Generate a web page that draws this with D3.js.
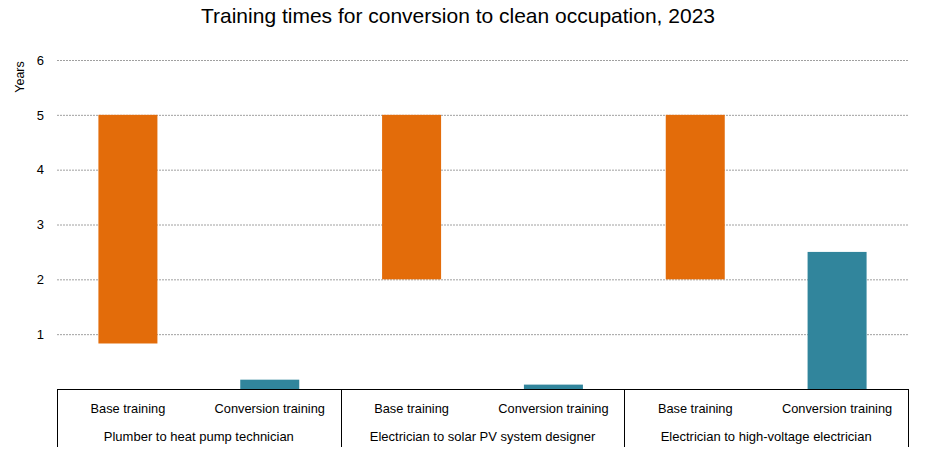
<!DOCTYPE html>
<html lang="en">
<head>
<meta charset="UTF-8">
<title>Training times for conversion to clean occupation, 2023</title>
<script src="https://cdn.jsdelivr.net/npm/d3@7"></script>
<style>
    body { margin: 0; background: #fff; }
    svg { display: block; }
    .tick text { font-family: "Liberation Sans", Arial, sans-serif; }
</style>
</head>
<body>
<script>
// occupations (outer categories) and phases (inner categories)
const groups = ["Plumber to heat pump technician", "Electrician to solar PV system designer", "Electrician to high-voltage electrician"];
const phases = ["Base training", "Conversion training"];

// floating bars: start and end in years
const baseStart = [0.83, 2, 2];
const baseEnd = [5, 5, 5];
const convStart = [0, 0, 0];
const convEnd = [0.17, 0.08, 2.5];

const yTicks = [1, 2, 3, 4, 5, 6];

const width = 946, height = 474;
const plotLeft = 57, plotRight = 908, plotTop = 60, plotBottom = 389;
const colors = { "Base training": "#e36c0a", "Conversion training": "#31859c" };

// flatten into rows for the bars
const rows = [];
groups.forEach((g, i) => {
    rows.push({ group: g, phase: phases[0], key: g + "|" + phases[0], y0: baseStart[i], y1: baseEnd[i] });
    rows.push({ group: g, phase: phases[1], key: g + "|" + phases[1], y0: convStart[i], y1: convEnd[i] });
});

const svg = d3.select("body").append("svg")
    .attr("width", width)
    .attr("height", height);

const x0 = d3.scaleBand().domain(groups).range([plotLeft, plotRight]).padding(0);
const x = d3.scaleBand().domain(rows.map(d => d.key)).range([plotLeft, plotRight])
    .paddingInner(0.584).paddingOuter(0.292);
const y = d3.scaleLinear().domain([0, 6]).range([plotBottom, plotTop]);

svg.append("text")
    .attr("x", 458).attr("y", 23)
    .attr("text-anchor", "middle")
    .style("font-family", "'Liberation Sans', Arial, sans-serif")
    .style("font-size", "21px")
    .text("Training times for conversion to clean occupation, 2023");

// y axis with dotted gridlines
const yAxis = svg.append("g")
    .attr("transform", "translate(" + plotLeft + ",0)")
    .call(d3.axisLeft(y).tickValues(yTicks).tickFormat(d3.format("d"))
        .tickSize(-(plotRight - plotLeft)).tickPadding(13));
yAxis.select(".domain").remove();
yAxis.selectAll(".tick line")
    .attr("stroke", "#a0a0a0")
    .attr("stroke-dasharray", "2,1");
yAxis.selectAll(".tick text")
    .attr("fill", "#000")
    .style("font-size", "13px");

svg.append("text")
    .attr("transform", "translate(24,77) rotate(-90)")
    .attr("text-anchor", "middle")
    .style("font-family", "'Liberation Sans', Arial, sans-serif")
    .style("font-size", "12.5px")
    .text("Years");

svg.selectAll("rect.bar")
    .data(rows)
    .enter().append("rect")
    .attr("class", "bar")
    .attr("x", d => x(d.key))
    .attr("width", x.bandwidth())
    .attr("y", d => y(d.y1))
    .attr("height", d => y(d.y0) - y(d.y1))
    .attr("fill", d => colors[d.phase]);

// category axis: baseline, separators, two label rows
svg.append("line")
    .attr("x1", plotLeft).attr("x2", plotRight)
    .attr("y1", plotBottom + 0.5).attr("y2", plotBottom + 0.5)
    .attr("stroke", "#000");

const seps = groups.map(g => x0(g)).concat([plotRight]);
svg.selectAll("line.sep")
    .data(seps)
    .enter().append("line")
    .attr("class", "sep")
    .attr("x1", d => Math.round(d) + 0.5).attr("x2", d => Math.round(d) + 0.5)
    .attr("y1", plotBottom).attr("y2", 447)
    .attr("stroke", "#000");

svg.selectAll("text.phase")
    .data(rows)
    .enter().append("text")
    .attr("class", "phase")
    .attr("x", d => x(d.key) + x.bandwidth() / 2)
    .attr("y", 413)
    .attr("text-anchor", "middle")
    .style("font-family", "'Liberation Sans', Arial, sans-serif")
    .style("font-size", "12.8px")
    .text(d => d.phase);

svg.selectAll("text.group")
    .data(groups)
    .enter().append("text")
    .attr("class", "group")
    .attr("x", d => x0(d) + x0.bandwidth() / 2)
    .attr("y", 441)
    .attr("text-anchor", "middle")
    .style("font-family", "'Liberation Sans', Arial, sans-serif")
    .style("font-size", "13px")
    .text(d => d);
</script>
</body>
</html>
